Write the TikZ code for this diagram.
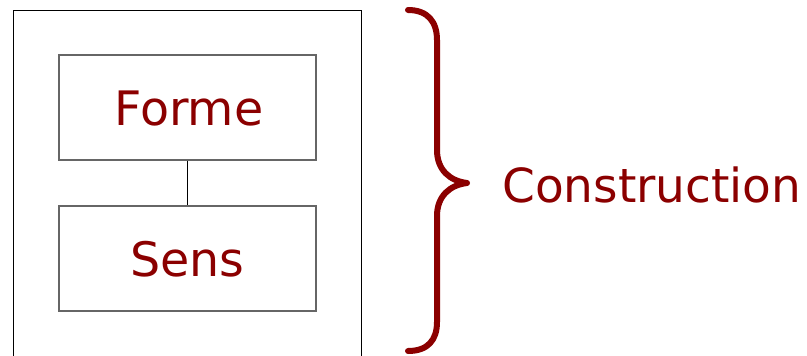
\documentclass[tikz,border=0pt]{standalone}
\usepackage{fontspec}
\setmainfont{DejaVu Sans}
\definecolor{darkred}{RGB}{139,0,0}
\begin{document}
\begin{tikzpicture}[x=1pt,y=-1pt,
  inbox/.style={draw=black!60,line width=1.3pt,minimum width=257pt,minimum height=105pt,inner sep=0pt},
  boxtext/.style={text=darkred,font=\fontsize{47.5}{56}\selectfont,inner sep=0pt},
  bracestyle/.style={draw=darkred,line width=6pt,line cap=round,line join=round}]
\useasboundingbox (0,0) rectangle (807,356);
\fill[white] (0,0) rectangle (807,356);
\draw[black,line width=0.9pt] (13.5,358) -- (13.5,10) -- (361,10) -- (361,358);
\node[inbox] (forme) at (187.5,107.5) {};
\node[inbox] (sens) at (187.5,258.5) {};
\node[boxtext] (formetxt) at (189,109) {Forme};
\node[boxtext] (senstxt) at (187.5,259.5) {Sens};
\draw[black,line width=1pt] (forme.south) -- (sens.north);
\coordinate (tip) at (467,183);
\draw[bracestyle] (408,10) .. controls (428,10) and (437,22) .. (437,40)
  -- (437,150) .. controls (437,170) and (450,181) .. (tip)
  .. controls (450,185) and (437,196) .. (437,216)
  -- (437,322) .. controls (437,340) and (428,351) .. (408,351);
\node[anchor=west,text=darkred,font=\fontsize{47}{56}\selectfont,inner sep=0pt] (constr) at (502,185) {Construction};
\end{tikzpicture}
\end{document}
